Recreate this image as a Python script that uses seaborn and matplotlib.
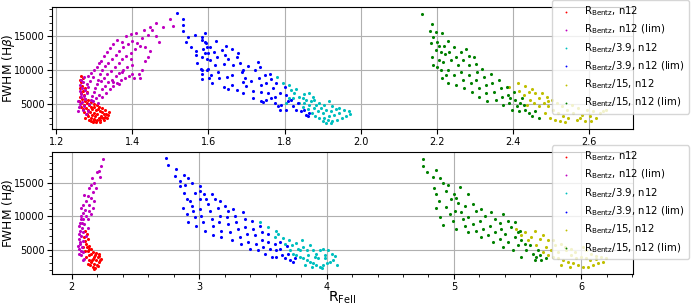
import numpy as np
import pandas as pd
import matplotlib
matplotlib.use("Agg")
import matplotlib.pyplot as plt
import seaborn as sns
from matplotlib.ticker import AutoMinorLocator

# series names (legend order = draw order)
labels = [r"R$_{\rm Bentz}$, n12", r"R$_{\rm Bentz}$, n12 (lim)",
          r"R$_{\rm Bentz}$/3.9, n12", r"R$_{\rm Bentz}$/3.9, n12 (lim)",
          r"R$_{\rm Bentz}$/15, n12", r"R$_{\rm Bentz}$/15, n12 (lim)"]
colors = ["r", "m", "c", "b", "y", "g"]

# ---- top panel points (R_FeII, FWHM) ----
top_red = [(1.264, 9100), (1.262, 8600), (1.266, 8200), (1.268, 7700), (1.263, 7300), (1.270, 7000),
           (1.266, 6600), (1.272, 6300), (1.262, 6000), (1.268, 5800), (1.275, 5500), (1.280, 5200),
           (1.266, 5100), (1.272, 4800), (1.285, 4900), (1.290, 4600), (1.278, 4400), (1.295, 4300),
           (1.300, 4500), (1.305, 4100), (1.310, 4300), (1.315, 4000), (1.320, 3800), (1.325, 3600),
           (1.330, 3500), (1.335, 3400), (1.328, 3100), (1.318, 3300), (1.308, 3500), (1.298, 3700),
           (1.288, 3900), (1.280, 3600), (1.284, 3200), (1.292, 3000), (1.300, 2800), (1.308, 2600),
           (1.316, 2700), (1.322, 2900), (1.312, 3000), (1.302, 3200), (1.294, 3400), (1.286, 2700),
           (1.296, 2400), (1.304, 2300), (1.290, 2500), (1.276, 3000), (1.282, 4200), (1.274, 3800),
           (1.270, 4300), (1.276, 5800), (1.284, 5600), (1.290, 5300), (1.298, 5000), (1.306, 4800),
           (1.312, 4600), (1.320, 4400), (1.328, 4100), (1.338, 3800), (1.334, 3000), (1.326, 2600),
           (1.314, 2400), (1.270, 8900), (1.275, 7400), (1.281, 6800), (1.260, 5500), (1.265, 4600),
           (1.298, 2600), (1.318, 3100)]
top_mag = [(1.258, 4000), (1.260, 4500), (1.262, 5000), (1.258, 5500), (1.264, 6000), (1.266, 6500),
           (1.261, 7000), (1.268, 7400), (1.262, 7800), (1.270, 8200), (1.264, 8600), (1.273, 9000),
           (1.270, 4200), (1.274, 4700), (1.268, 5300), (1.276, 5700), (1.272, 6200), (1.280, 6600),
           (1.276, 7100), (1.284, 7500), (1.280, 8000), (1.288, 8400), (1.284, 9200), (1.292, 9600),
           (1.278, 3600), (1.282, 4000), (1.286, 5000), (1.290, 5600), (1.294, 6200), (1.298, 6800),
           (1.302, 7400), (1.306, 8000), (1.310, 8600), (1.296, 9000), (1.300, 10000), (1.306, 10400),
           (1.312, 11000), (1.318, 11400), (1.326, 12100), (1.334, 12700), (1.340, 13200), (1.350, 13800),
           (1.360, 14400), (1.372, 14200), (1.382, 15000), (1.396, 15400), (1.410, 15500), (1.430, 16000),
           (1.446, 16400), (1.462, 16900), (1.480, 16400), (1.500, 17500), (1.507, 16500),
           (1.314, 9400), (1.320, 10100), (1.328, 10600), (1.336, 11100), (1.346, 11700), (1.356, 12300),
           (1.366, 12800), (1.376, 13400), (1.388, 13900), (1.400, 14300), (1.412, 14000), (1.424, 14700),
           (1.440, 15200), (1.452, 16000), (1.462, 15000), (1.470, 14100),
           (1.318, 8400), (1.326, 8900), (1.334, 9400), (1.344, 9900), (1.354, 10500), (1.364, 11000),
           (1.374, 11600), (1.384, 12100), (1.396, 12600), (1.408, 13100), (1.420, 13600), (1.434, 13400),
           (1.446, 12800), (1.440, 12000), (1.432, 11300), (1.424, 10000), (1.418, 9500), (1.420, 8900),
           (1.404, 8800), (1.400, 9500), (1.398, 10700), (1.396, 11700),
           (1.320, 7200), (1.328, 7700), (1.336, 8200), (1.346, 8600), (1.356, 9100), (1.366, 9600),
           (1.376, 10100), (1.386, 10500), (1.330, 6700), (1.340, 7200), (1.350, 7600), (1.360, 8100),
           (1.370, 8500), (1.380, 8900), (1.390, 9200), (1.364, 8000), (1.372, 9700), (1.348, 8300),
           (1.296, 5400), (1.304, 5900), (1.312, 6400), (1.320, 6000), (1.310, 5200)]
top_cyan = [(1.780, 8930), (1.796, 8060), (1.813, 7810), (1.817, 7090), (1.826, 6600), (1.830, 7180),
            (1.823, 5870), (1.839, 6110), (1.852, 6500), (1.865, 6700), (1.857, 5630), (1.870, 5390),
            (1.878, 5630), (1.883, 4900), (1.891, 5150), (1.904, 4900), (1.917, 5390), (1.926, 4660),
            (1.935, 4270), (1.943, 4420), (1.957, 4180), (1.970, 3930), (1.972, 3550), (1.961, 3300),
            (1.950, 2960), (1.939, 2720), (1.926, 2480), (1.913, 2720), (1.900, 2480), (1.891, 2960),
            (1.881, 3210), (1.872, 3690), (1.861, 4270), (1.848, 4560), (1.839, 5150), (1.887, 3930),
            (1.900, 3690), (1.909, 4180), (1.922, 3930), (1.930, 3450), (1.943, 3690), (1.917, 3210),
            (1.904, 2960), (1.896, 4420), (1.878, 4420), (1.865, 4900), (1.852, 5150), (1.813, 5870),
            (1.804, 5150), (1.848, 5870), (1.874, 6110), (1.909, 2230), (1.922, 2140)]
top_blue = [(1.518, 18490), (1.532, 17510), (1.534, 16640), (1.534, 15820), (1.547, 14940), (1.541, 14210),
            (1.564, 15190), (1.555, 13490), (1.566, 12900), (1.568, 12180), (1.571, 11110), (1.580, 10240),
            (1.582, 9370), (1.584, 8640), (1.582, 14850), (1.590, 14120), (1.595, 13390), (1.590, 12520),
            (1.596, 11690), (1.596, 10000), (1.602, 8780), (1.591, 15480), (1.583, 14460), (1.594, 13970),
            (1.585, 13150), (1.583, 11940), (1.583, 10000), (1.603, 13390), (1.600, 12520), (1.604, 11550),
            (1.600, 10240), (1.606, 9270), (1.609, 8060), (1.620, 14260), (1.615, 12660), (1.622, 11940),
            (1.617, 10720), (1.626, 9750), (1.629, 8780), (1.641, 7570), (1.635, 13000), (1.646, 13630),
            (1.643, 12180), (1.641, 10970), (1.648, 9030), (1.652, 7180), (1.661, 13150), (1.652, 11690),
            (1.665, 10720), (1.661, 9270), (1.663, 7810), (1.674, 7090), (1.678, 12520), (1.676, 11940),
            (1.683, 11060), (1.687, 9750), (1.690, 8300), (1.690, 6600), (1.691, 10000), (1.704, 10580),
            (1.696, 8780), (1.700, 7670), (1.713, 8440), (1.716, 6990), (1.717, 5870), (1.722, 10000),
            (1.730, 11210), (1.735, 10480), (1.733, 8780), (1.737, 7810), (1.739, 6840), (1.737, 5390),
            (1.748, 9270), (1.752, 8060), (1.757, 6700), (1.761, 9510), (1.765, 8640), (1.770, 7330),
            (1.765, 5870), (1.774, 5150), (1.778, 8060), (1.787, 6600), (1.783, 4660), (1.791, 4900),
            (1.800, 7570), (1.804, 6360), (1.809, 5390), (1.804, 4180), (1.817, 5630), (1.822, 4660),
            (1.830, 4180), (1.835, 5150), (1.843, 3930), (1.857, 3450), (1.861, 3210), (1.852, 4180),
            (1.865, 3690), (1.787, 4180), (1.774, 6110), (1.752, 5630), (1.743, 5240)]
top_yel = [(2.390, 7570), (2.414, 8060), (2.416, 6990), (2.433, 7670), (2.429, 6360), (2.442, 6840),
           (2.451, 7180), (2.459, 6600), (2.446, 5630), (2.468, 5870), (2.477, 6700), (2.481, 5150),
           (2.490, 6110), (2.494, 4660), (2.503, 5630), (2.507, 4180), (2.516, 5150), (2.520, 3690),
           (2.529, 4660), (2.533, 3210), (2.542, 4180), (2.546, 2960), (2.555, 4900), (2.559, 3690),
           (2.568, 2720), (2.572, 4420), (2.581, 3450), (2.590, 2480), (2.594, 4180), (2.603, 3210),
           (2.611, 3930), (2.620, 2960), (2.629, 3690), (2.638, 3930), (2.646, 4180), (2.485, 3690),
           (2.499, 2960), (2.512, 2720), (2.525, 2480), (2.538, 2330), (2.468, 4660), (2.455, 5150),
           (2.494, 5390), (2.438, 4900), (2.577, 2960), (2.607, 2480)]
top_green = [(2.161, 18290), (2.188, 16880), (2.183, 15820), (2.197, 15570), (2.191, 14850), (2.200, 14120),
             (2.185, 13970), (2.214, 15430), (2.205, 13630), (2.197, 12910), (2.188, 11940), (2.190, 10720),
             (2.211, 12660), (2.207, 11550), (2.200, 10480), (2.220, 13630), (2.223, 12420), (2.217, 11210),
             (2.211, 10000), (2.214, 8780), (2.229, 14360), (2.233, 12660), (2.237, 11450), (2.229, 10000),
             (2.224, 9270), (2.231, 8060), (2.246, 13390), (2.250, 11940), (2.255, 10720), (2.246, 9270),
             (2.250, 7810), (2.264, 12660), (2.268, 11450), (2.264, 9750), (2.268, 8540), (2.272, 7330),
             (2.277, 13150), (2.284, 12030), (2.285, 10720), (2.284, 9270), (2.290, 8060), (2.294, 6840),
             (2.298, 11940), (2.303, 10970), (2.307, 9750), (2.303, 8540), (2.310, 7330), (2.311, 6110),
             (2.320, 10240), (2.324, 9030), (2.329, 7810), (2.330, 6600), (2.333, 5390), (2.342, 9510),
             (2.346, 8060), (2.351, 6840), (2.355, 5630), (2.364, 8540), (2.368, 7330), (2.371, 6110),
             (2.374, 4900), (2.385, 7570), (2.388, 6360), (2.391, 5150), (2.398, 4180), (2.403, 6840),
             (2.407, 5630), (2.411, 4660), (2.416, 3930), (2.424, 5870), (2.429, 4900), (2.433, 4180),
             (2.442, 3690), (2.451, 3210), (2.459, 3930), (2.468, 2960), (2.420, 5150), (2.394, 5870)]

# ---- bottom panel points ----
bot_red = [(2.107, 7790), (2.100, 6810), (2.126, 6570), (2.113, 5830), (2.139, 5590), (2.152, 5100),
           (2.126, 4850), (2.165, 4610), (2.186, 4120), (2.204, 3870), (2.217, 3970), (2.139, 4120),
           (2.165, 3630), (2.191, 3380), (2.212, 3140), (2.152, 3140), (2.178, 2890), (2.197, 2650),
           (2.134, 3380), (2.113, 3870), (2.165, 2400), (2.186, 2300), (2.144, 2650), (2.126, 2890),
           (2.204, 2500), (2.178, 2160), (2.223, 3380), (2.231, 3630), (2.155, 4360), (2.176, 3870),
           (2.139, 5100), (2.123, 5340), (2.107, 4850), (2.102, 6320), (2.118, 7300), (2.086, 5340),
           (2.160, 3380), (2.191, 4460), (2.212, 4360)]
bot_mag = [(2.249, 18570), (2.231, 17500), (2.212, 16710), (2.223, 15880), (2.197, 16520), (2.160, 15630),
           (2.178, 14900), (2.152, 14650), (2.191, 14160), (2.139, 14160), (2.165, 13670), (2.100, 13180),
           (2.126, 12940), (2.152, 12690), (2.178, 12200), (2.113, 12200), (2.086, 11710), (2.139, 11710),
           (2.165, 11220), (2.073, 11220), (2.107, 10980), (2.134, 10730), (2.152, 10240), (2.092, 10490),
           (2.073, 10000), (2.113, 10000), (2.126, 9510), (2.086, 9510), (2.068, 9020), (2.100, 8770),
           (2.126, 8280), (2.081, 8280), (2.066, 7790), (2.092, 7550), (2.113, 7060), (2.073, 7060),
           (2.060, 6570), (2.086, 6320), (2.066, 5830), (2.081, 5340), (2.060, 5100), (2.092, 4610),
           (2.073, 4120), (2.100, 3630), (2.086, 3380), (2.055, 8530), (2.055, 7300), (2.052, 5590),
           (2.060, 4360), (2.070, 9600), (2.078, 8900), (2.064, 6200), (2.076, 4800)]
bot_cyan = [(3.476, 9070), (3.542, 8330), (3.607, 7840), (3.620, 7350), (3.594, 6860), (3.660, 6760),
            (3.673, 5880), (3.704, 6370), (3.730, 5640), (3.764, 5980), (3.804, 6370), (3.777, 5150),
            (3.817, 5390), (3.843, 4900), (3.869, 5640), (3.895, 4900), (3.921, 4410), (3.948, 4900),
            (3.974, 5150), (3.987, 4170), (4.013, 4900), (4.039, 4410), (4.065, 4020), (4.079, 2700),
            (4.052, 3430), (4.026, 3190), (4.000, 2940), (3.974, 2700), (3.948, 2450), (3.921, 2700),
            (3.895, 2940), (3.869, 3190), (3.843, 3430), (3.817, 3680), (3.791, 3920), (3.764, 4170),
            (3.738, 4410), (3.830, 2700), (3.882, 2450), (3.961, 2210), (3.935, 3680), (3.987, 3680),
            (3.908, 3920), (3.856, 4170), (3.791, 4900), (3.712, 4900)]
bot_blue = [(2.738, 18720), (2.757, 17640), (2.822, 17050), (2.809, 15930), (2.880, 16170), (2.848, 15290),
            (2.913, 15680), (2.853, 14460), (2.887, 14700), (2.940, 14950), (3.010, 14460), (2.880, 13480),
            (2.966, 13480), (2.901, 12500), (2.927, 12250), (3.003, 13720), (3.042, 13330), (3.010, 12500),
            (2.874, 11170), (2.940, 11520), (2.953, 10780), (3.005, 11030), (3.052, 12500), (3.097, 13230),
            (2.901, 10290), (2.966, 9800), (2.914, 9070), (2.979, 8580), (3.018, 10050), (3.031, 9070),
            (3.045, 7840), (3.071, 11760), (3.084, 10780), (3.097, 9560), (3.110, 8580), (3.105, 7110),
            (3.123, 12500), (3.162, 12250), (3.149, 11270), (3.162, 10050), (3.157, 9070), (3.175, 7840),
            (3.175, 6860), (3.202, 11520), (3.228, 10780), (3.215, 9800), (3.228, 8820), (3.241, 7600),
            (3.254, 6370), (3.267, 11030), (3.280, 10050), (3.293, 9070), (3.306, 8090), (3.319, 6860),
            (3.332, 5880), (3.346, 10540), (3.359, 9560), (3.359, 8330), (3.372, 7350), (3.385, 6130),
            (3.398, 5150), (3.411, 9310), (3.424, 8090), (3.437, 7110), (3.450, 5880), (3.463, 4900),
            (3.476, 8580), (3.490, 7600), (3.490, 6370), (3.503, 5390), (3.516, 4410), (3.542, 7350),
            (3.542, 6130), (3.555, 5150), (3.568, 3920), (3.594, 5880), (3.607, 4900), (3.607, 3920),
            (3.634, 5150), (3.647, 4170), (3.673, 3680), (3.699, 4410), (3.712, 3430), (3.738, 3190),
            (3.751, 3680), (3.686, 5540), (3.634, 6130)]
bot_yel = [(5.490, 8090), (5.555, 7600), (5.634, 7840), (5.607, 6860), (5.673, 6620), (5.699, 7110),
           (5.738, 6370), (5.777, 6470), (5.791, 5640), (5.843, 5880), (5.869, 5390), (5.882, 4900),
           (5.921, 5150), (5.948, 4660), (6.013, 5390), (6.039, 4900), (6.079, 4410), (6.118, 4020),
           (6.157, 3920), (6.196, 3680), (6.170, 3190), (6.131, 2940), (6.092, 2700), (6.052, 2450),
           (6.013, 2350), (5.974, 2700), (5.935, 2940), (5.895, 3190), (5.856, 3430), (5.817, 3680),
           (5.777, 3920), (5.738, 4170), (5.699, 4660), (5.843, 2700), (5.908, 2450), (6.000, 3920),
           (6.039, 3680), (5.961, 3680), (5.921, 4170), (5.817, 4660), (5.764, 4900), (5.725, 5390),
           (5.647, 5640), (5.581, 6370), (5.529, 7110), (6.065, 3430), (6.118, 3530)]
bot_green = [(4.757, 18520), (4.757, 17540), (4.791, 16660), (4.861, 16910), (4.835, 15780), (4.887, 15680),
             (4.913, 14950), (4.843, 14210), (4.953, 14700), (4.940, 13720), (4.856, 13230), (5.000, 13330),
             (5.045, 14310), (4.880, 12250), (4.979, 12500), (5.018, 12740), (4.861, 11270), (4.940, 11370),
             (5.031, 12010), (5.084, 11520), (5.110, 13230), (4.887, 9800), (4.966, 10290), (5.005, 10780),
             (5.058, 10540), (5.149, 11760), (5.175, 10780), (4.913, 8720), (4.992, 9310), (5.071, 9560),
             (5.110, 9800), (5.215, 11030), (5.241, 10050), (5.018, 8090), (5.084, 8580), (5.149, 8820),
             (5.202, 9310), (5.293, 10540), (5.319, 9560), (5.110, 7600), (5.175, 7840), (5.228, 8090),
             (5.280, 8580), (5.359, 8970), (5.385, 10290), (5.215, 6860), (5.267, 7110), (5.319, 7600),
             (5.372, 8090), (5.424, 9310), (5.450, 8330), (5.306, 6130), (5.359, 6620), (5.398, 7350),
             (5.476, 9070), (5.385, 5390), (5.424, 6130), (5.476, 6860), (5.516, 7840), (5.463, 4900),
             (5.503, 5640), (5.529, 6370), (5.529, 3920), (5.568, 4900), (5.594, 5640), (5.620, 4410),
             (5.647, 3920), (5.673, 4170), (5.686, 3430), (5.725, 3680), (5.634, 3430), (5.660, 4900),
             (5.555, 5880), (5.503, 7600)]

top_series = [top_red, top_mag, top_cyan, top_blue, top_yel, top_green]
bot_series = [bot_red, bot_mag, bot_cyan, bot_blue, bot_yel, bot_green]

fig, axes = plt.subplots(2, 1, figsize=(6.93, 3.08), dpi=100)
fig.subplots_adjust(left=0.075, right=0.913, top=0.977, bottom=0.11, hspace=0.19)

for ax, series in zip(axes, [top_series, bot_series]):
    for pts, lab, col in zip(series, labels, colors):
        d = pd.DataFrame(pts, columns=["rfe", "fwhm"])
        sns.scatterplot(data=d, x="rfe", y="fwhm", color=col, s=5, linewidth=0,
                        label=lab, ax=ax)
    ax.grid(True, color="#b0b0b0", linewidth=0.8)
    ax.set_axisbelow(True)
    ax.yaxis.set_minor_locator(AutoMinorLocator())
    ax.set_yticks([5000, 10000, 15000])
    ax.tick_params(labelsize=7, pad=2)
    ax.set_xlabel("")
    ax.set_ylabel(r"FWHM (H$\beta$)", fontsize=8.7)
    ax.yaxis.set_label_coords(-0.061, 0.5)
    ax.legend(loc="upper left", bbox_to_anchor=(0.861, 1.055), borderaxespad=0,
              fontsize=7.3, labelspacing=0.45, markerscale=0.6)

# minor x ticks only visible on the lower panel
axes[1].xaxis.set_minor_locator(AutoMinorLocator())
axes[1].set_xlabel(r"R$_{\rm FeII}$", fontsize=10, va="bottom")
axes[1].xaxis.set_label_coords(0.5, -0.262)

plt.savefig("out.png", dpi=100)
